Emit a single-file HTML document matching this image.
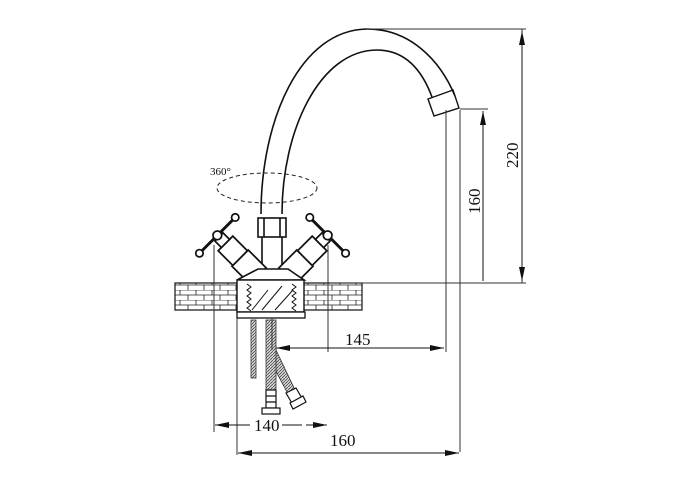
<!DOCTYPE html>
<html><head><style>body{margin:0;background:#fff}svg{display:block}text{font-family:"Liberation Serif",serif;fill:#111}</style></head>
<body>
<svg width="700" height="500" viewBox="0 0 700 500" xmlns="http://www.w3.org/2000/svg">
<defs>
<pattern id="br" width="16" height="10" patternUnits="userSpaceOnUse"><rect width="16" height="10" fill="#fff"/><path d="M0 0H16M0 5H16M4 0V5M12 5V10" stroke="#222" stroke-width="0.8"/></pattern>
<pattern id="hs" width="3" height="3" patternUnits="userSpaceOnUse"><rect width="3" height="3" fill="#ddd"/><path d="M0 3L3 0" stroke="#444" stroke-width="0.8"/></pattern>
<marker id="a" markerWidth="14" markerHeight="6" refX="14" refY="3" orient="auto-start-reverse" markerUnits="userSpaceOnUse"><path d="M0 0L14 3L0 6Z" fill="#111"/></marker>
</defs>
<g fill="none" stroke="#111" stroke-width="1.6">
<path d="M261 214 C261 120 300 30 367 29 C410 29 440 60 455 96"/>
<path d="M282 214 C282 130 320 50 377 50 C405 50 422 70 432 97"/>
<path d="M428 99 L453 90 L459 108 L434 116 Z" stroke-width="1.4"/>
<rect x="258" y="218" width="28" height="19"/>
<path d="M264 218V237M280 218V237"/>
<path d="M262 237V269M282 237V269"/>
</g>
<ellipse cx="267" cy="188" rx="50" ry="15" fill="none" stroke="#222" stroke-width="1" stroke-dasharray="4,3"/>
<text x="210" y="175" font-size="11">360°</text>
<!-- valves -->
<g fill="#fff" stroke="#111" stroke-width="1.5">
<g transform="translate(258,276) rotate(225) scale(1.15)">
<path d="M0 -10H22V10H0Z"/><path d="M22 -9H40V9H22Z"/>
<rect x="40" y="-5" width="8" height="10"/>
<path d="M50 -20V20" stroke-width="2.5"/>
<circle cx="50" cy="-22" r="3.2"/><circle cx="50" cy="22" r="3.2"/><circle cx="50" cy="0" r="3.8"/>
</g>
<g transform="translate(287,276) rotate(-45) scale(1.15)">
<path d="M0 -10H22V10H0Z"/><path d="M22 -9H40V9H22Z"/>
<rect x="40" y="-5" width="8" height="10"/>
<path d="M50 -20V20" stroke-width="2.5"/>
<circle cx="50" cy="-22" r="3.2"/><circle cx="50" cy="22" r="3.2"/><circle cx="50" cy="0" r="3.8"/>
</g>
</g>
<path d="M258 269H288L304 280H237Z" fill="#fff" stroke="#111" stroke-width="1.6"/>
<rect x="175" y="283" width="187" height="27" fill="url(#br)" stroke="#111" stroke-width="1.2"/>
<rect x="237" y="280" width="67" height="32" fill="#fff" stroke="#111" stroke-width="1.4"/>
<g stroke="#111" stroke-width="1" fill="none">
<path d="M247 284 l4 3 -4 3 4 3 -4 3 4 3 -4 3 4 3 -4 3 4 3M292 284 l4 3 -4 3 4 3 -4 3 4 3 -4 3 4 3 -4 3 4 3"/>
<path d="M252 310L268 290M262 310L282 286M275 310L293 290"/>
</g>
<rect x="237" y="312" width="68" height="6" fill="#fff" stroke="#111" stroke-width="1.3"/>
<rect x="251" y="320" width="5" height="58" fill="url(#hs)" stroke="#333" stroke-width="0.8"/>
<path d="M276 350 L296 392 L289 396 L269 358Z" fill="url(#hs)" stroke="#333" stroke-width="0.8"/>
<rect x="266" y="320" width="10" height="70" fill="url(#hs)" stroke="#333" stroke-width="0.8"/>
<g fill="#fff" stroke="#111" stroke-width="1.2">
<rect x="266" y="390" width="10" height="18"/><path d="M266 396H276M266 402H276"/>
<rect x="262" y="408" width="18" height="6"/>
<path d="M286 393 L296 388 L303 400 L293 405Z"/>
<path d="M290 403 L303 396 L306 402 L293 409Z"/>
</g>
<g stroke="#333" stroke-width="1" fill="none">
<path d="M367 29H526M522 29V283"/>
<path d="M330 283H526"/>
<path d="M446 110V352M460 110V452M460 109H488"/>
<path d="M214 245V432M237 318V455M328 245V352M272 318V350"/>
</g>
<g stroke="#111" stroke-width="1" fill="none">
<path d="M522 31V281" marker-start="url(#a)" marker-end="url(#a)"/>
<path d="M483 111V281" marker-start="url(#a)"/>
<path d="M276 348H444" marker-start="url(#a)" marker-end="url(#a)"/>
<path d="M215 425H250M282 425H302"/>
<path d="M215 425H236" marker-start="url(#a)"/>
<path d="M306 425H327" marker-end="url(#a)"/>
<path d="M238 453H459" marker-start="url(#a)" marker-end="url(#a)"/>
</g>
<text x="345" y="345" font-size="17">145</text>
<text x="254" y="431" font-size="17">140</text>
<text x="330" y="446" font-size="17">160</text>
<text x="0" y="0" font-size="17" transform="translate(518,168) rotate(-90)">220</text>
<text x="0" y="0" font-size="17" transform="translate(480,214) rotate(-90)">160</text>
</svg>
</body></html>
